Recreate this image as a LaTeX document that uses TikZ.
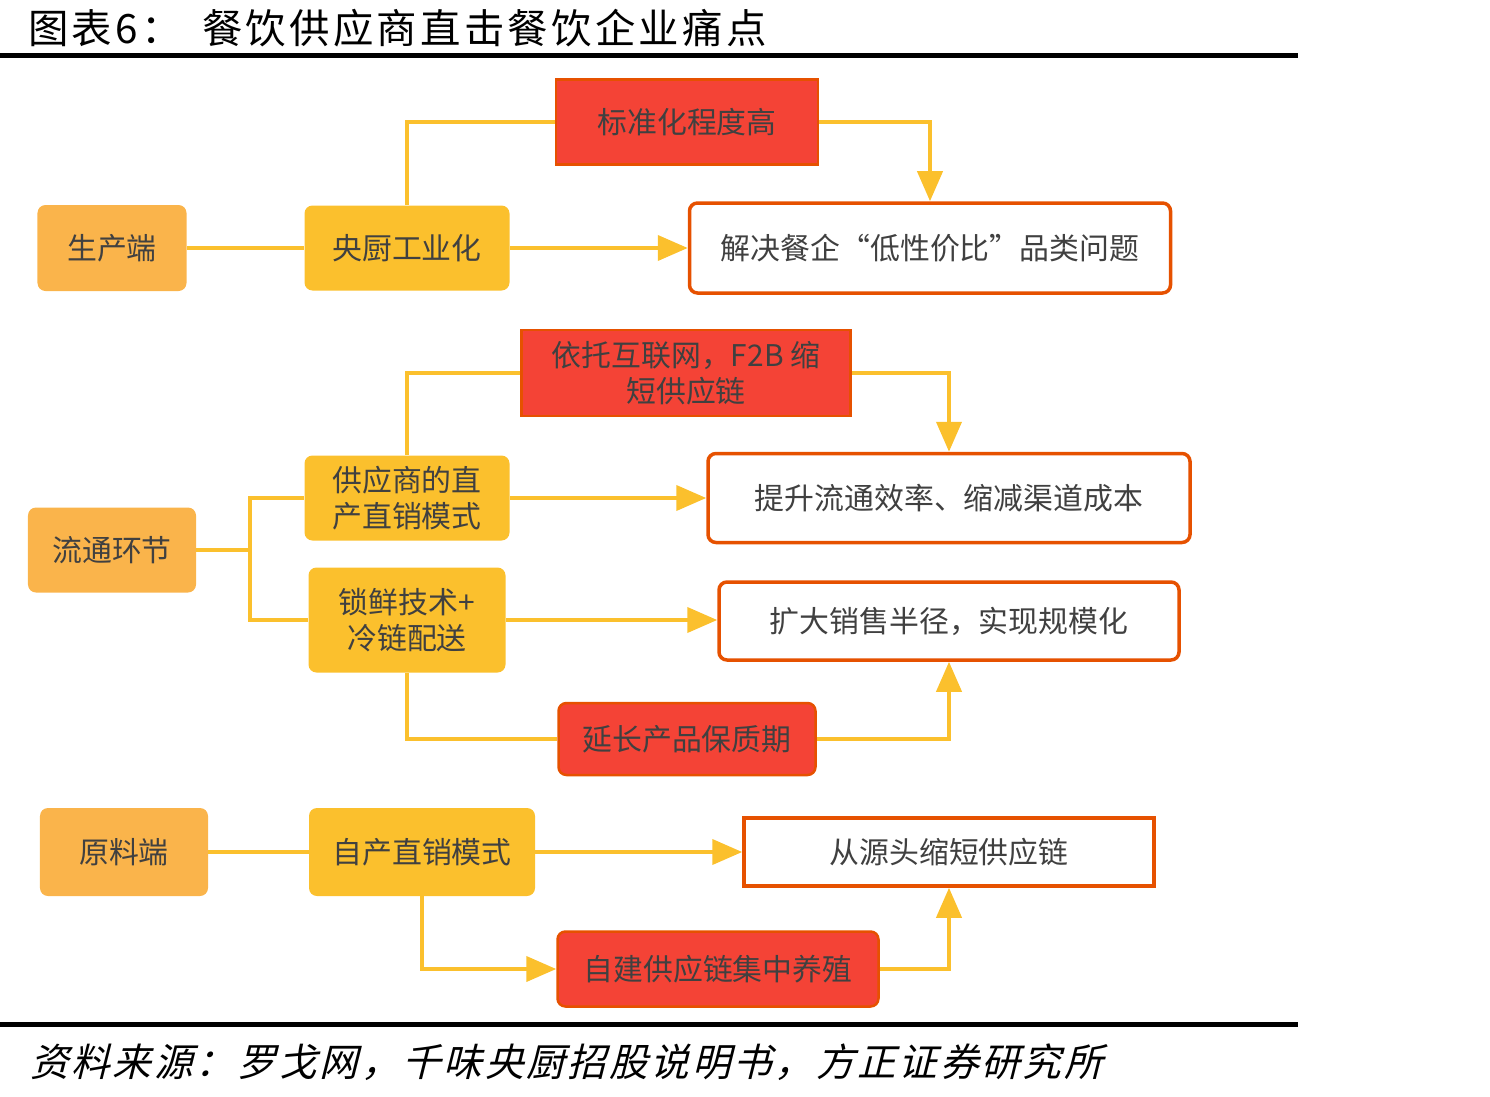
\documentclass[tikz,border=0pt]{standalone}
\usepackage{fontspec}
\usetikzlibrary{arrows.meta}
\newfontfamily\cjk{Noto Sans CJK SC}
\newfontfamily\cjktitle[LetterSpace=8]{Noto Sans CJK SC}
\newfontfamily\cjkslant[FakeSlant=0.25, LetterSpace=7]{Noto Sans CJK SC}
\definecolor{lineyellow}{RGB}{251,192,45}
\definecolor{boxorange}{RGB}{250,180,75}
\definecolor{boxyellow}{RGB}{251,192,45}
\definecolor{boxred}{RGB}{244,67,54}
\definecolor{edgeorange}{RGB}{230,81,0}
\definecolor{txtgray}{RGB}{64,64,64}

\begin{document}
\begin{tikzpicture}[x=0.2mm, y=-0.2mm,
    caja/.style={font=\cjk\fontsize{17}{20.5}\selectfont, text=txtgray, align=center, inner sep=0pt},
    fuente/.style={caja, fill=boxorange, rounded corners=1.6mm},
    paso/.style={caja, fill=boxyellow, rounded corners=1.6mm},
    factor/.style={caja, fill=boxred, draw=edgeorange, line width=0.5mm},
    meta/.style={caja, fill=white, draw=edgeorange, line width=0.7mm, rounded corners=1.6mm},
    enlace/.style={draw=lineyellow, line width=0.8mm},
    flecha/.style={enlace, -{Triangle[length=6mm, width=5mm]}}]
    \useasboundingbox (0,0) rectangle (1490,1097);

    % Titulo y reglas
    \node[anchor=west, font=\cjktitle\fontsize{23}{23}\selectfont] (tnum) at (22,28) {图表6：};
    \node[anchor=west, font=\cjktitle\fontsize{23}{23}\selectfont] (titulo) at (196,28) {餐饮供应商直击餐饮企业痛点};
    \draw[line width=1mm] (0,55.5) -- (1298,55.5);
    \draw[line width=1mm] (0,1024.5) -- (1298,1024.5);
    \node[anchor=west, font=\cjkslant\fontsize{22}{22}\selectfont] (fuente) at (24,1062) {资料来源：罗戈网，千味央厨招股说明书，方正证券研究所};

    % Fila 1: produccion
    \node[fuente, minimum width=29.8mm, minimum height=17.2mm] (sc) at (112,248) {生产端};
    \node[paso, minimum width=41mm, minimum height=17mm] (yc) at (407,248) {央厨工业化};
    \node[factor, minimum width=52.4mm, minimum height=17mm] (bz) at (687,122) {标准化程度高};
    \node[meta, minimum width=96.2mm, minimum height=18mm] (jj) at (930,248) {解决餐企“低性价比”品类问题};

    \draw[enlace] (sc) -- (yc);
    \draw[flecha] (yc) -- (jj);
    \draw[enlace] (yc.north) |- (bz.west);
    \draw[flecha] (bz.east) -| (jj.north);

    % Fila 2: circulacion
    \node[factor, minimum width=65.8mm, minimum height=17.2mm] (yt) at (686,373) {依托互联网，F2B 缩\\短供应链};
    \node[paso, minimum width=41mm, minimum height=17mm] (gy) at (407,498) {供应商的直\\产直销模式};
    \node[meta, minimum width=96.4mm, minimum height=17.8mm] (ts) at (949,498) {提升流通效率、缩减渠道成本};
    \node[fuente, minimum width=33.6mm, minimum height=17mm] (lt) at (112,550) {流通环节};
    \node[paso, minimum width=39.4mm, minimum height=21mm] (sx) at (407,620) {锁鲜技术+\\冷链配送};
    \node[meta, minimum width=92mm, minimum height=15.6mm] (kd) at (949,621) {扩大销售半径，实现规模化};
    \node[factor, rounded corners=1.6mm, minimum width=51.4mm, minimum height=14.4mm] (bzq) at (687,739) {延长产品保质期};

    \coordinate (rama) at (250,550);
    \draw[enlace] (lt.east) -- (rama) |- (gy.west);
    \draw[enlace] (rama) |- (sx.west);
    \draw[enlace] (gy.north) |- (yt.west);
    \draw[flecha] (yt.east) -| (ts.north);
    \draw[flecha] (gy) -- (ts);
    \draw[flecha] (sx.east) -- (sx.east -| kd.west);
    \draw[enlace] (sx.south) |- (bzq.west);
    \draw[flecha] (bzq.east) -| (kd.south);

    % Fila 3: materia prima
    \node[fuente, minimum width=33.6mm, minimum height=17.6mm] (yl) at (124,852) {原料端};
    \node[paso, minimum width=45.2mm, minimum height=17.6mm] (zc) at (422,852) {自产直销模式};
    \node[meta, sharp corners, minimum width=82mm, minimum height=13.6mm] (cy) at (949,852) {从源头缩短供应链};
    \node[factor, rounded corners=1.6mm, minimum width=64.2mm, minimum height=15mm] (zj) at (718,969) {自建供应链集中养殖};

    \draw[enlace] (yl) -- (zc);
    \draw[flecha] (zc) -- (cy);
    \draw[flecha] (zc.south) |- (zj.west);
    \draw[flecha] (zj.east) -| (cy.south);
\end{tikzpicture}
\end{document}
